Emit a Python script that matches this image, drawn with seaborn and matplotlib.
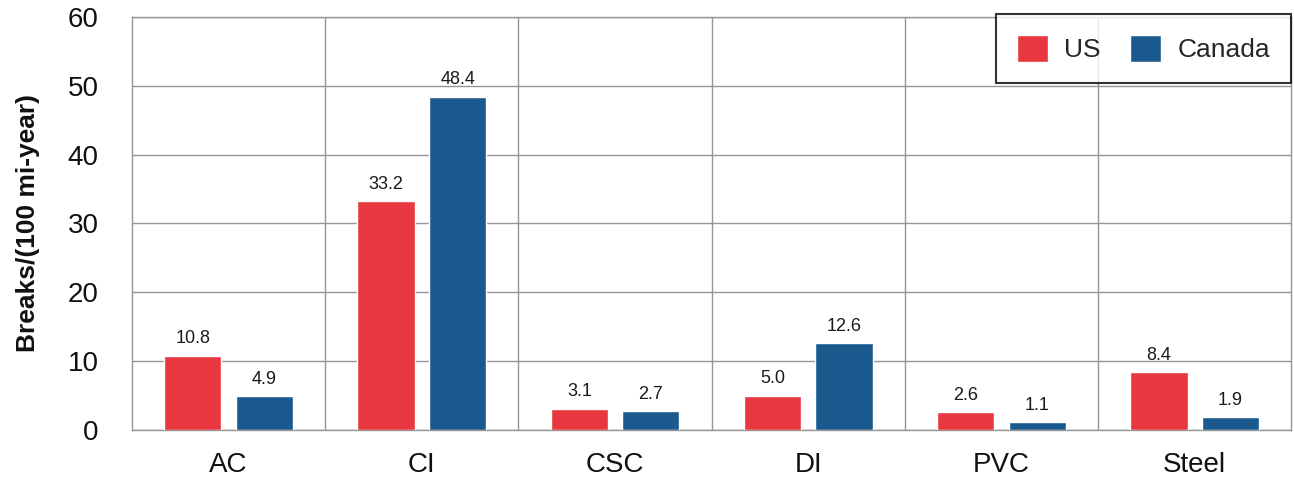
import matplotlib
matplotlib.use("Agg")
import matplotlib.pyplot as plt
import pandas as pd
import seaborn as sns

materials = ["AC", "CI", "CSC", "DI", "PVC", "Steel"]
us = [10.8, 33.2, 3.1, 5.0, 2.6, 8.4]
canada = [4.9, 48.4, 2.7, 12.6, 1.1, 1.9]

df = pd.DataFrame({
    "material": materials * 2,
    "country": ["US"] * len(materials) + ["Canada"] * len(materials),
    "breaks": us + canada,
})

sns.set_style("white")
plt.rcParams["font.family"] = ["Liberation Sans", "DejaVu Sans"]

fig = plt.figure(figsize=(12.94, 4.82), dpi=100)
ax = fig.add_axes([0.102, 0.108, 0.896, 0.857])

palette = {"US": "#e8373f", "Canada": "#1b5a8e"}
sns.barplot(data=df, x="material", y="breaks", hue="country", palette=palette,
            width=0.74, gap=0.2, saturation=1, ax=ax, zorder=3)

for cont in ax.containers:
    ax.bar_label(cont, fmt="%.1f", padding=6, fontsize=13, color="#1a1a1a")

ax.set_ylim(0, 60)
ax.set_xlim(-0.5, len(materials) - 0.5)
ax.set_yticks(range(0, 61, 10))
ax.yaxis.grid(True, color="#959595", linewidth=1)
for i in range(1, len(materials)):
    ax.axvline(i - 0.5, color="#959595", linewidth=1, zorder=1)
for s in ax.spines.values():
    s.set_color("#959595")
    s.set_linewidth(1)

ax.tick_params(axis="y", length=0, labelsize=20, pad=24, labelcolor="#111111")
ax.tick_params(axis="x", length=0, labelsize=20, pad=16, labelcolor="#111111")
ax.set_xlabel("")
ax.set_ylabel("Breaks/(100 mi-year)", fontsize=19, fontweight="bold",
              labelpad=20, color="#111111")

leg = ax.legend(loc="upper right", bbox_to_anchor=(1.011, 1.04), ncol=2, fontsize=19,
                frameon=True, fancybox=False, handlelength=1.2, handleheight=1.2,
                handletextpad=0.6, columnspacing=1.1, borderpad=0.8)
leg.get_frame().set_edgecolor("black")
leg.get_frame().set_linewidth(1.5)
leg.set_title(None)

fig.savefig("out.png", dpi=100)
